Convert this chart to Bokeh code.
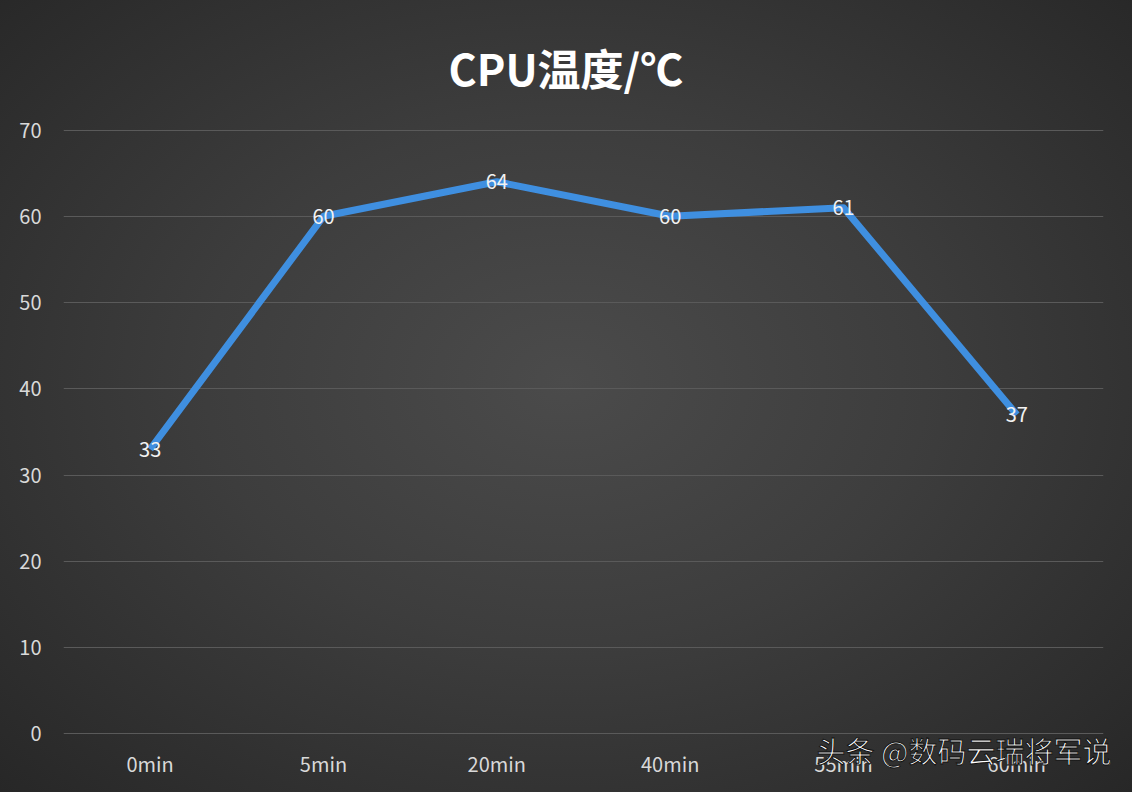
from bokeh.plotting import figure
from bokeh.models import Title, InlineStyleSheet, FixedTicker, ColumnDataSource
from bokeh.core.properties import value
from bokeh.embed import file_html
from bokeh.resources import INLINE

categories = ["0min", "5min", "20min", "40min", "55min", "60min"]
temps = [33, 60, 64, 60, 61, 37]
y_ticks = [0, 10, 20, 30, 40, 50, 60, 70]
title_text = "CPU温度/℃"
watermark = "头条 @数码云瑞将军说"

FONT = "Noto Sans CJK SC"

p = figure(x_range=categories, y_range=(-0.06, 70.06), width=1132, height=792,
           output_backend="svg", toolbar_location=None,
           min_border_left=63, min_border_right=29, min_border_top=129, min_border_bottom=58)
p.stylesheets = [InlineStyleSheet(css=":host{background: radial-gradient(ellipse at 50% 48%, #4b4b4b 0%, #3d3d3d 45%, #272727 100%);}")]
p.border_fill_color = None
p.background_fill_color = None
p.outline_line_color = None

p.title.text = title_text
p.title.align = "left"
p.title.offset = 385
p.title.text_color = "#ffffff"
p.title.text_font = FONT
p.title.text_font_size = "43px"
p.title.text_font_style = "bold"
p.title.standoff = 64

wm = Title(text=watermark, align="right", vertical_align="top", offset=-8,
           text_color="#ffffff", text_font=FONT,
           text_font_size="29px", text_font_style="normal", standoff=-104,
           text_outline_color="#111111")
p.add_layout(wm, "below")

p.x_range.range_padding = 0

p.yaxis.ticker = FixedTicker(ticks=y_ticks)
for ax in (p.xaxis[0], p.yaxis[0]):
    ax.axis_line_color = None
    ax.major_tick_line_color = None
    ax.minor_tick_line_color = None
    ax.major_tick_out = 0
    ax.major_tick_in = 0
    ax.major_label_text_color = "#d9d9d9"
    ax.major_label_text_font = FONT
    ax.major_label_text_font_size = "20px"
p.yaxis.major_label_standoff = 22
p.xaxis.major_label_standoff = 14

p.xgrid.grid_line_color = None
p.ygrid.grid_line_color = "#5a5a5a"
p.ygrid.grid_line_width = 1

src = ColumnDataSource(dict(x=categories, y=temps, t=[str(v) for v in temps]))
p.line("x", "y", source=src, line_width=7, line_color="#3f8fe0", line_join="round")
p.text("x", "y", text="t", source=src, text_align="center", text_baseline="middle",
       text_color="#f2f2f2", text_font=value(FONT), text_font_size="20px")

open("out.html", "w").write(file_html(p, INLINE))
